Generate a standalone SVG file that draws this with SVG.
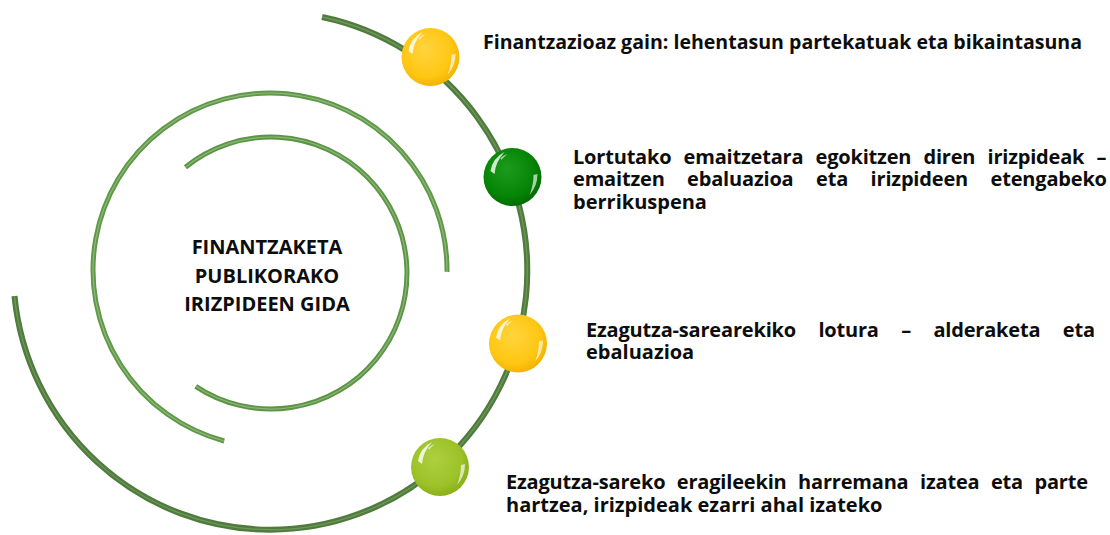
<svg xmlns="http://www.w3.org/2000/svg" xmlns:xlink="http://www.w3.org/1999/xlink" width="1110" height="535" viewBox="0 0 1110 535">
  <style>
    .lbl { font-family: 'Open Sans', 'Noto Sans', 'DejaVu Sans', sans-serif; font-weight: 700; font-size: 20px; fill: #0d0d0d; }
    .ttl { font-family: 'Open Sans', 'Noto Sans', 'DejaVu Sans', sans-serif; font-weight: 700; font-size: 20px; fill: #0d0d0d; text-anchor: middle; }
    .arc-outer { fill: none; stroke: #4f7c3d; stroke-width: 6; }
    .arc-mid { fill: none; stroke: #5f9848; stroke-width: 5; }
    .arc-in { fill: none; stroke: #5c9446; stroke-width: 5; }
    .hl { fill: none; stroke: #b4d6a0; stroke-width: 1.2; stroke-opacity: 0.55; }
    .hl-o { fill: none; stroke: #8fb27c; stroke-width: 1.3; stroke-opacity: 0.5; }
  </style>
  <defs>
    <radialGradient id="gYellow" cx="0.45" cy="0.42" r="0.62" fx="0.4" fy="0.35">
      <stop offset="0" stop-color="#FFD43E"/>
      <stop offset="0.7" stop-color="#FFC713"/>
      <stop offset="1" stop-color="#F0B000"/>
    </radialGradient>
    <radialGradient id="gDark" cx="0.45" cy="0.42" r="0.62" fx="0.4" fy="0.35">
      <stop offset="0" stop-color="#1C9C1C"/>
      <stop offset="0.7" stop-color="#068406"/>
      <stop offset="1" stop-color="#006800"/>
    </radialGradient>
    <radialGradient id="gLight" cx="0.45" cy="0.42" r="0.62" fx="0.4" fy="0.35">
      <stop offset="0" stop-color="#AECF40"/>
      <stop offset="0.7" stop-color="#9CC228"/>
      <stop offset="1" stop-color="#86AC18"/>
    </radialGradient>
    <g id="gloss">
      <path d="M -22 -6 Q -20 -19 -8 -25 Q -17 -15 -18 -3 Z" fill="#ffffff" fill-opacity="0.8"/>
      <path d="M -12 -19 Q -9 -22 -5 -23 Q -9 -20 -11 -17 Z" fill="#ffffff" fill-opacity="0.6"/>
      <path d="M 25 -3 Q 25 9 17 18 Q 21 8 21 -2 Z" fill="#ffffff" fill-opacity="0.65"/>
    </g>
  </defs>
  <rect width="1110" height="535" fill="#ffffff"/>

  <g id="connectors">
    <path class="arc-outer" d="M 322 17 A 257 259 0 1 1 14.5 296"/>
    <path class="hl-o" d="M 322 17 A 257 259 0 1 1 14.5 296"/>
    <path class="arc-mid" d="M 224.2 441 A 177 177 0 1 1 447 271.9"/>
    <path class="hl" d="M 224.2 441 A 177 177 0 1 1 447 271.9"/>
    <path class="arc-in" d="M 185.4 167.3 A 136 136 0 1 1 195.7 386.3"/>
    <path class="hl" d="M 185.4 167.3 A 136 136 0 1 1 195.7 386.3"/>
  </g>

  <g id="node-title">
    <text class="ttl" x="267" y="254">FINANTZAKETA</text>
    <text class="ttl" x="267" y="282.5">PUBLIKORAKO</text>
    <text class="ttl" x="267" y="311">IRIZPIDEEN GIDA</text>
  </g>

  <g id="node-1">
    <circle cx="430.5" cy="57" r="29" fill="url(#gYellow)"/>
    <use xlink:href="#gloss" href="#gloss" x="430.5" y="57"/>
    <text class="lbl" x="483" y="49" textLength="599" lengthAdjust="spacingAndGlyphs">Finantzazioaz gain: lehentasun partekatuak eta bikaintasuna</text>
  </g>

  <g id="node-2">
    <circle cx="512.5" cy="177" r="29" fill="url(#gDark)"/>
    <use xlink:href="#gloss" href="#gloss" x="512.5" y="177"/>
    <text class="lbl" x="573" y="163.5" word-spacing="7.2" textLength="533.5" lengthAdjust="spacing">Lortutako emaitzetara egokitzen diren irizpideak –</text>
    <text class="lbl" x="573" y="186" word-spacing="17.5" textLength="534" lengthAdjust="spacing">emaitzen ebaluazioa eta irizpideen etengabeko</text>
    <text class="lbl" x="573" y="208.5">berrikuspena</text>
  </g>

  <g id="node-3">
    <circle cx="518" cy="343.5" r="29" fill="url(#gYellow)"/>
    <use xlink:href="#gloss" href="#gloss" x="518" y="343.5"/>
    <text class="lbl" x="586" y="336.5" word-spacing="17.4" textLength="509" lengthAdjust="spacing">Ezagutza-sarearekiko lotura – alderaketa eta</text>
    <text class="lbl" x="586" y="359">ebaluazioa</text>
  </g>

  <g id="node-4">
    <circle cx="440" cy="467" r="29" fill="url(#gLight)"/>
    <use xlink:href="#gloss" href="#gloss" x="440" y="467"/>
    <text class="lbl" x="506" y="489" word-spacing="6.5" textLength="582" lengthAdjust="spacing">Ezagutza-sareko eragileekin harremana izatea eta parte</text>
    <text class="lbl" x="506" y="511.5">hartzea, irizpideak ezarri ahal izateko</text>
  </g>
</svg>
